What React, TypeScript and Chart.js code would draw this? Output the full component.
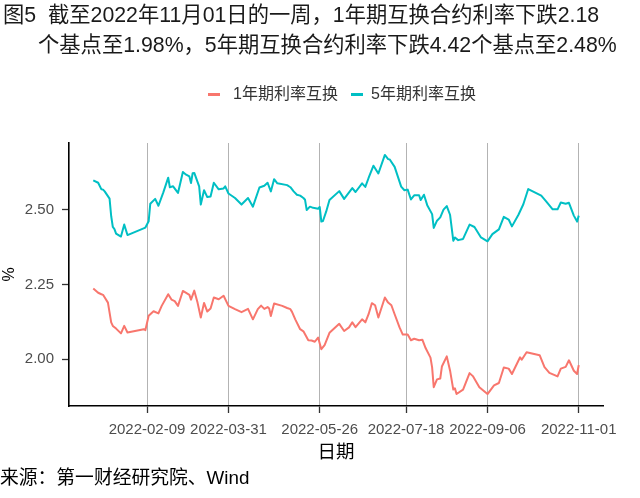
import React, { useEffect, useRef } from "react";
import { Chart, registerables } from "chart.js";

Chart.register(...registerables);

const titleLine1 = "图5  截至2022年11月01日的一周，1年期互换合约利率下跌2.18";
const titleLine2 = "个基点至1.98%，5年期互换合约利率下跌4.42个基点至2.48%";
const seriesNames = ["1年期利率互换", "5年期利率互换"];
const seriesColors = ["#F8766D", "#00BFC4"];
const xTitle = "日期";
const yTitle = "%";
const sourceText = "来源：第一财经研究院、Wind";

const xTickDates = ["2022-02-09", "2022-03-31", "2022-05-26", "2022-07-18", "2022-09-06", "2022-11-01"];
const yTickValues = [2.0, 2.25, 2.5];

const dates1Y = [
  "2022-01-07", "2022-01-10", "2022-01-12", "2022-01-13", "2022-01-16", "2022-01-18", "2022-01-19", "2022-01-21",
  "2022-01-24", "2022-01-26", "2022-01-28", "2022-02-07", "2022-02-08", "2022-02-10", "2022-02-13", "2022-02-16",
  "2022-02-18", "2022-02-22", "2022-02-24", "2022-02-26", "2022-02-28", "2022-03-03", "2022-03-07", "2022-03-08",
  "2022-03-10", "2022-03-12", "2022-03-14", "2022-03-16", "2022-03-18", "2022-03-20", "2022-03-22", "2022-03-25",
  "2022-03-28", "2022-03-31", "2022-04-04", "2022-04-08", "2022-04-12", "2022-04-15", "2022-04-18", "2022-04-20",
  "2022-04-22", "2022-04-24", "2022-04-25", "2022-04-26", "2022-04-28", "2022-05-03", "2022-05-06", "2022-05-08",
  "2022-05-09", "2022-05-11", "2022-05-14", "2022-05-16", "2022-05-19", "2022-05-21", "2022-05-23", "2022-05-25",
  "2022-05-27", "2022-05-29", "2022-06-01", "2022-06-07", "2022-06-10", "2022-06-13", "2022-06-15", "2022-06-17",
  "2022-06-21", "2022-06-23", "2022-06-25", "2022-06-27", "2022-06-29", "2022-07-01", "2022-07-05", "2022-07-07",
  "2022-07-09", "2022-07-11", "2022-07-14", "2022-07-16", "2022-07-19", "2022-07-21", "2022-07-23", "2022-07-26",
  "2022-07-28", "2022-07-30", "2022-08-02", "2022-08-03", "2022-08-04", "2022-08-06", "2022-08-08", "2022-08-09",
  "2022-08-12", "2022-08-14", "2022-08-16", "2022-08-17", "2022-08-18", "2022-08-22", "2022-08-26", "2022-08-28",
  "2022-09-01", "2022-09-06", "2022-09-10", "2022-09-13", "2022-09-16", "2022-09-19", "2022-09-21", "2022-09-26",
  "2022-09-27", "2022-09-30", "2022-10-08", "2022-10-11", "2022-10-14", "2022-10-19", "2022-10-21", "2022-10-24",
  "2022-10-26", "2022-10-29", "2022-10-31", "2022-11-01",
];
const rates1Y = [
  2.236, 2.222, 2.217, 2.215, 2.189, 2.123, 2.111, 2.102,
  2.086, 2.111, 2.089, 2.100, 2.097, 2.145, 2.160, 2.153,
  2.178, 2.217, 2.199, 2.194, 2.178, 2.228, 2.215, 2.199,
  2.229, 2.189, 2.139, 2.188, 2.159, 2.169, 2.206, 2.200,
  2.212, 2.178, 2.167, 2.157, 2.168, 2.133, 2.167, 2.179,
  2.168, 2.174, 2.169, 2.144, 2.186, 2.178, 2.171, 2.167,
  2.158, 2.133, 2.100, 2.093, 2.063, 2.062, 2.058, 2.072,
  2.033, 2.047, 2.088, 2.118, 2.094, 2.106, 2.123, 2.107,
  2.133, 2.123, 2.150, 2.187, 2.180, 2.139, 2.206, 2.189,
  2.180, 2.150, 2.106, 2.082, 2.082, 2.063, 2.068, 2.063,
  2.065, 2.037, 2.005, 1.972, 1.906, 1.932, 1.935, 1.975,
  2.009, 1.962, 1.898, 1.902, 1.883, 1.898, 1.953, 1.943,
  1.906, 1.883, 1.912, 1.920, 1.972, 1.968, 1.950, 2.006,
  1.998, 2.023, 2.013, 1.973, 1.954, 1.942, 1.968, 1.974,
  1.996, 1.961, 1.950, 1.980,
];

const dates5Y = [
  "2022-01-07", "2022-01-10", "2022-01-12", "2022-01-13", "2022-01-14", "2022-01-17", "2022-01-18", "2022-01-19",
  "2022-01-20", "2022-01-21", "2022-01-24", "2022-01-26", "2022-01-28", "2022-02-08", "2022-02-10", "2022-02-11",
  "2022-02-14", "2022-02-16", "2022-02-19", "2022-02-22", "2022-02-23", "2022-02-25", "2022-02-28", "2022-03-03",
  "2022-03-05", "2022-03-07", "2022-03-08", "2022-03-09", "2022-03-10", "2022-03-13", "2022-03-14", "2022-03-16",
  "2022-03-18", "2022-03-20", "2022-03-22", "2022-03-25", "2022-03-28", "2022-03-29", "2022-03-31", "2022-04-04",
  "2022-04-08", "2022-04-12", "2022-04-15", "2022-04-19", "2022-04-22", "2022-04-24", "2022-04-26", "2022-04-28",
  "2022-04-30", "2022-05-06", "2022-05-08", "2022-05-10", "2022-05-12", "2022-05-14", "2022-05-16", "2022-05-17",
  "2022-05-18", "2022-05-20", "2022-05-22", "2022-05-25", "2022-05-26", "2022-05-27", "2022-05-28", "2022-05-30",
  "2022-06-01", "2022-06-07", "2022-06-10", "2022-06-15", "2022-06-17", "2022-06-21", "2022-06-23", "2022-06-25",
  "2022-06-28", "2022-07-01", "2022-07-05", "2022-07-07", "2022-07-08", "2022-07-11", "2022-07-15", "2022-07-17",
  "2022-07-19", "2022-07-21", "2022-07-23", "2022-07-26", "2022-07-27", "2022-07-29", "2022-07-31", "2022-08-03",
  "2022-08-04", "2022-08-06", "2022-08-08", "2022-08-10", "2022-08-12", "2022-08-14", "2022-08-16", "2022-08-17",
  "2022-08-19", "2022-08-22", "2022-08-26", "2022-08-29", "2022-09-02", "2022-09-06", "2022-09-09", "2022-09-13",
  "2022-09-16", "2022-09-19", "2022-09-21", "2022-09-25", "2022-09-28", "2022-10-01", "2022-10-09", "2022-10-12",
  "2022-10-16", "2022-10-19", "2022-10-21", "2022-10-24", "2022-10-26", "2022-10-29", "2022-10-31", "2022-11-01",
];
const rates5Y = [
  2.598, 2.590, 2.568, 2.567, 2.561, 2.537, 2.478, 2.442,
  2.435, 2.420, 2.410, 2.450, 2.415, 2.440, 2.461, 2.520,
  2.536, 2.513, 2.558, 2.607, 2.575, 2.578, 2.556, 2.626,
  2.617, 2.611, 2.589, 2.622, 2.623, 2.578, 2.517, 2.565,
  2.542, 2.544, 2.590, 2.568, 2.571, 2.578, 2.554, 2.539,
  2.517, 2.539, 2.510, 2.574, 2.580, 2.590, 2.561, 2.602,
  2.588, 2.582, 2.575, 2.561, 2.550, 2.547, 2.539, 2.533,
  2.499, 2.510, 2.506, 2.503, 2.509, 2.460, 2.462, 2.494,
  2.532, 2.562, 2.536, 2.572, 2.559, 2.588, 2.576, 2.606,
  2.647, 2.621, 2.683, 2.669, 2.668, 2.643, 2.577, 2.565,
  2.567, 2.534, 2.548, 2.548, 2.532, 2.550, 2.515, 2.485,
  2.439, 2.463, 2.474, 2.500, 2.512, 2.483, 2.396, 2.407,
  2.398, 2.402, 2.450, 2.442, 2.407, 2.394, 2.418, 2.434,
  2.476, 2.467, 2.444, 2.483, 2.518, 2.569, 2.547, 2.528,
  2.501, 2.501, 2.524, 2.520, 2.523, 2.480, 2.460, 2.480,
];

const FONT = '"Liberation Sans", Arial, "Noto Sans CJK SC", sans-serif';

const dayIndex = (s: string) =>
  (Date.UTC(+s.slice(0, 4), +s.slice(5, 7) - 1, +s.slice(8, 10)) - Date.UTC(2022, 0, 1)) / 86400000;

export default function App() {
  const canvasRef = useRef<HTMLCanvasElement | null>(null);

  useEffect(() => {
    const canvas = canvasRef.current;
    if (!canvas) return;

    const allX = [...dates1Y, ...dates5Y].map(dayIndex);
    const allY = [...rates1Y, ...rates5Y];
    const xLo = Math.min(...allX), xHi = Math.max(...allX);
    const yLo = Math.min(...allY), yHi = Math.max(...allY);
    const xPad = (xHi - xLo) * 0.05;
    const yPad = (yHi - yLo) * 0.05;

    const chart = new Chart(canvas, {
      type: "line",
      data: {
        datasets: [
          {
            label: seriesNames[0],
            data: dates1Y.map((d, i) => ({ x: dayIndex(d), y: rates1Y[i] })),
            borderColor: seriesColors[0],
            backgroundColor: seriesColors[0],
            borderWidth: 2,
            pointRadius: 0,
            tension: 0,
            fill: false,
            borderJoinStyle: "round",
          },
          {
            label: seriesNames[1],
            data: dates5Y.map((d, i) => ({ x: dayIndex(d), y: rates5Y[i] })),
            borderColor: seriesColors[1],
            backgroundColor: seriesColors[1],
            borderWidth: 2,
            pointRadius: 0,
            tension: 0,
            fill: false,
            borderJoinStyle: "round",
          },
        ],
      },
      options: {
        responsive: false,
        animation: false,
        devicePixelRatio: 1,
        layout: { padding: { top: 143, right: 37, bottom: 52, left: 0 } },
        plugins: { legend: { display: false }, tooltip: { enabled: false } },
        scales: {
          x: {
            type: "linear",
            min: xLo - xPad,
            max: xHi + xPad,
            afterBuildTicks: (s: any) => {
              s.ticks = xTickDates.map((d) => ({ value: dayIndex(d) }));
            },
            afterFit: (s: any) => {
              s.height = 40;
            },
            ticks: {
              autoSkip: false,
              maxRotation: 0,
              minRotation: 0,
              padding: 8,
              color: "#4d4d4d",
              font: { family: FONT, size: 15 },
              callback: (v: any) => {
                const d = xTickDates.find((t) => dayIndex(t) === v);
                return d ?? "";
              },
            },
            grid: {
              display: true,
              drawOnChartArea: true,
              color: "#b3b3b3",
              lineWidth: 1,
              drawTicks: true,
              tickLength: 7,
              tickColor: "#333333",
              tickWidth: 1.3,
            },
            border: { display: true, color: "#000000", width: 1.6 },
          },
          y: {
            type: "linear",
            min: yLo - yPad,
            max: yHi + yPad,
            afterBuildTicks: (s: any) => {
              s.ticks = yTickValues.map((v) => ({ value: v }));
            },
            afterFit: (s: any) => {
              s.width = 69;
            },
            ticks: {
              padding: 8,
              color: "#4d4d4d",
              font: { family: FONT, size: 15 },
              callback: (v: any) => Number(v).toFixed(2),
            },
            grid: {
              display: true,
              drawOnChartArea: false,
              drawTicks: true,
              tickLength: 7,
              tickColor: "#333333",
              tickWidth: 1.3,
            },
            border: { display: true, color: "#000000", width: 1.6 },
            title: {
              display: true,
              text: yTitle,
              color: "#000000",
              font: { family: FONT, size: 16 },
              padding: { top: 0, bottom: 0 },
            },
          },
        },
      },
    } as any);

    return () => chart.destroy();
  }, []);

  const textBase: React.CSSProperties = {
    position: "absolute",
    whiteSpace: "pre",
    lineHeight: 1,
    fontFamily: FONT,
  };

  return (
    <div style={{ position: "absolute", left: 0, top: 0, width: 640, height: 498, background: "#ffffff", overflow: "hidden" }}>
      <canvas ref={canvasRef} width={640} height={498} style={{ position: "absolute", left: 0, top: 0, width: 640, height: 498 }} />
      <div style={{ ...textBase, left: 3, top: 4.8, fontSize: 21.3, color: "#1a1a1a" }}>{titleLine1}</div>
      <div style={{ ...textBase, left: 38, top: 34.8, fontSize: 21.3, color: "#1a1a1a" }}>{titleLine2}</div>

      {/* legend */}
      <div style={{ position: "absolute", left: 208, top: 93, width: 12, height: 2.5, background: seriesColors[0] }} />
      <div style={{ ...textBase, left: 233, top: 86.3, fontSize: 16, color: "#333333" }}>{seriesNames[0]}</div>
      <div style={{ position: "absolute", left: 351, top: 93, width: 12, height: 2.5, background: seriesColors[1] }} />
      <div style={{ ...textBase, left: 371, top: 86.3, fontSize: 16, color: "#333333" }}>{seriesNames[1]}</div>

      <div style={{ ...textBase, left: 317.5, top: 443, fontSize: 18.5, color: "#000000" }}>{xTitle}</div>
      <div style={{ ...textBase, left: 0, top: 469, fontSize: 18.8, color: "#000000" }}>{sourceText}</div>
    </div>
  );
}
